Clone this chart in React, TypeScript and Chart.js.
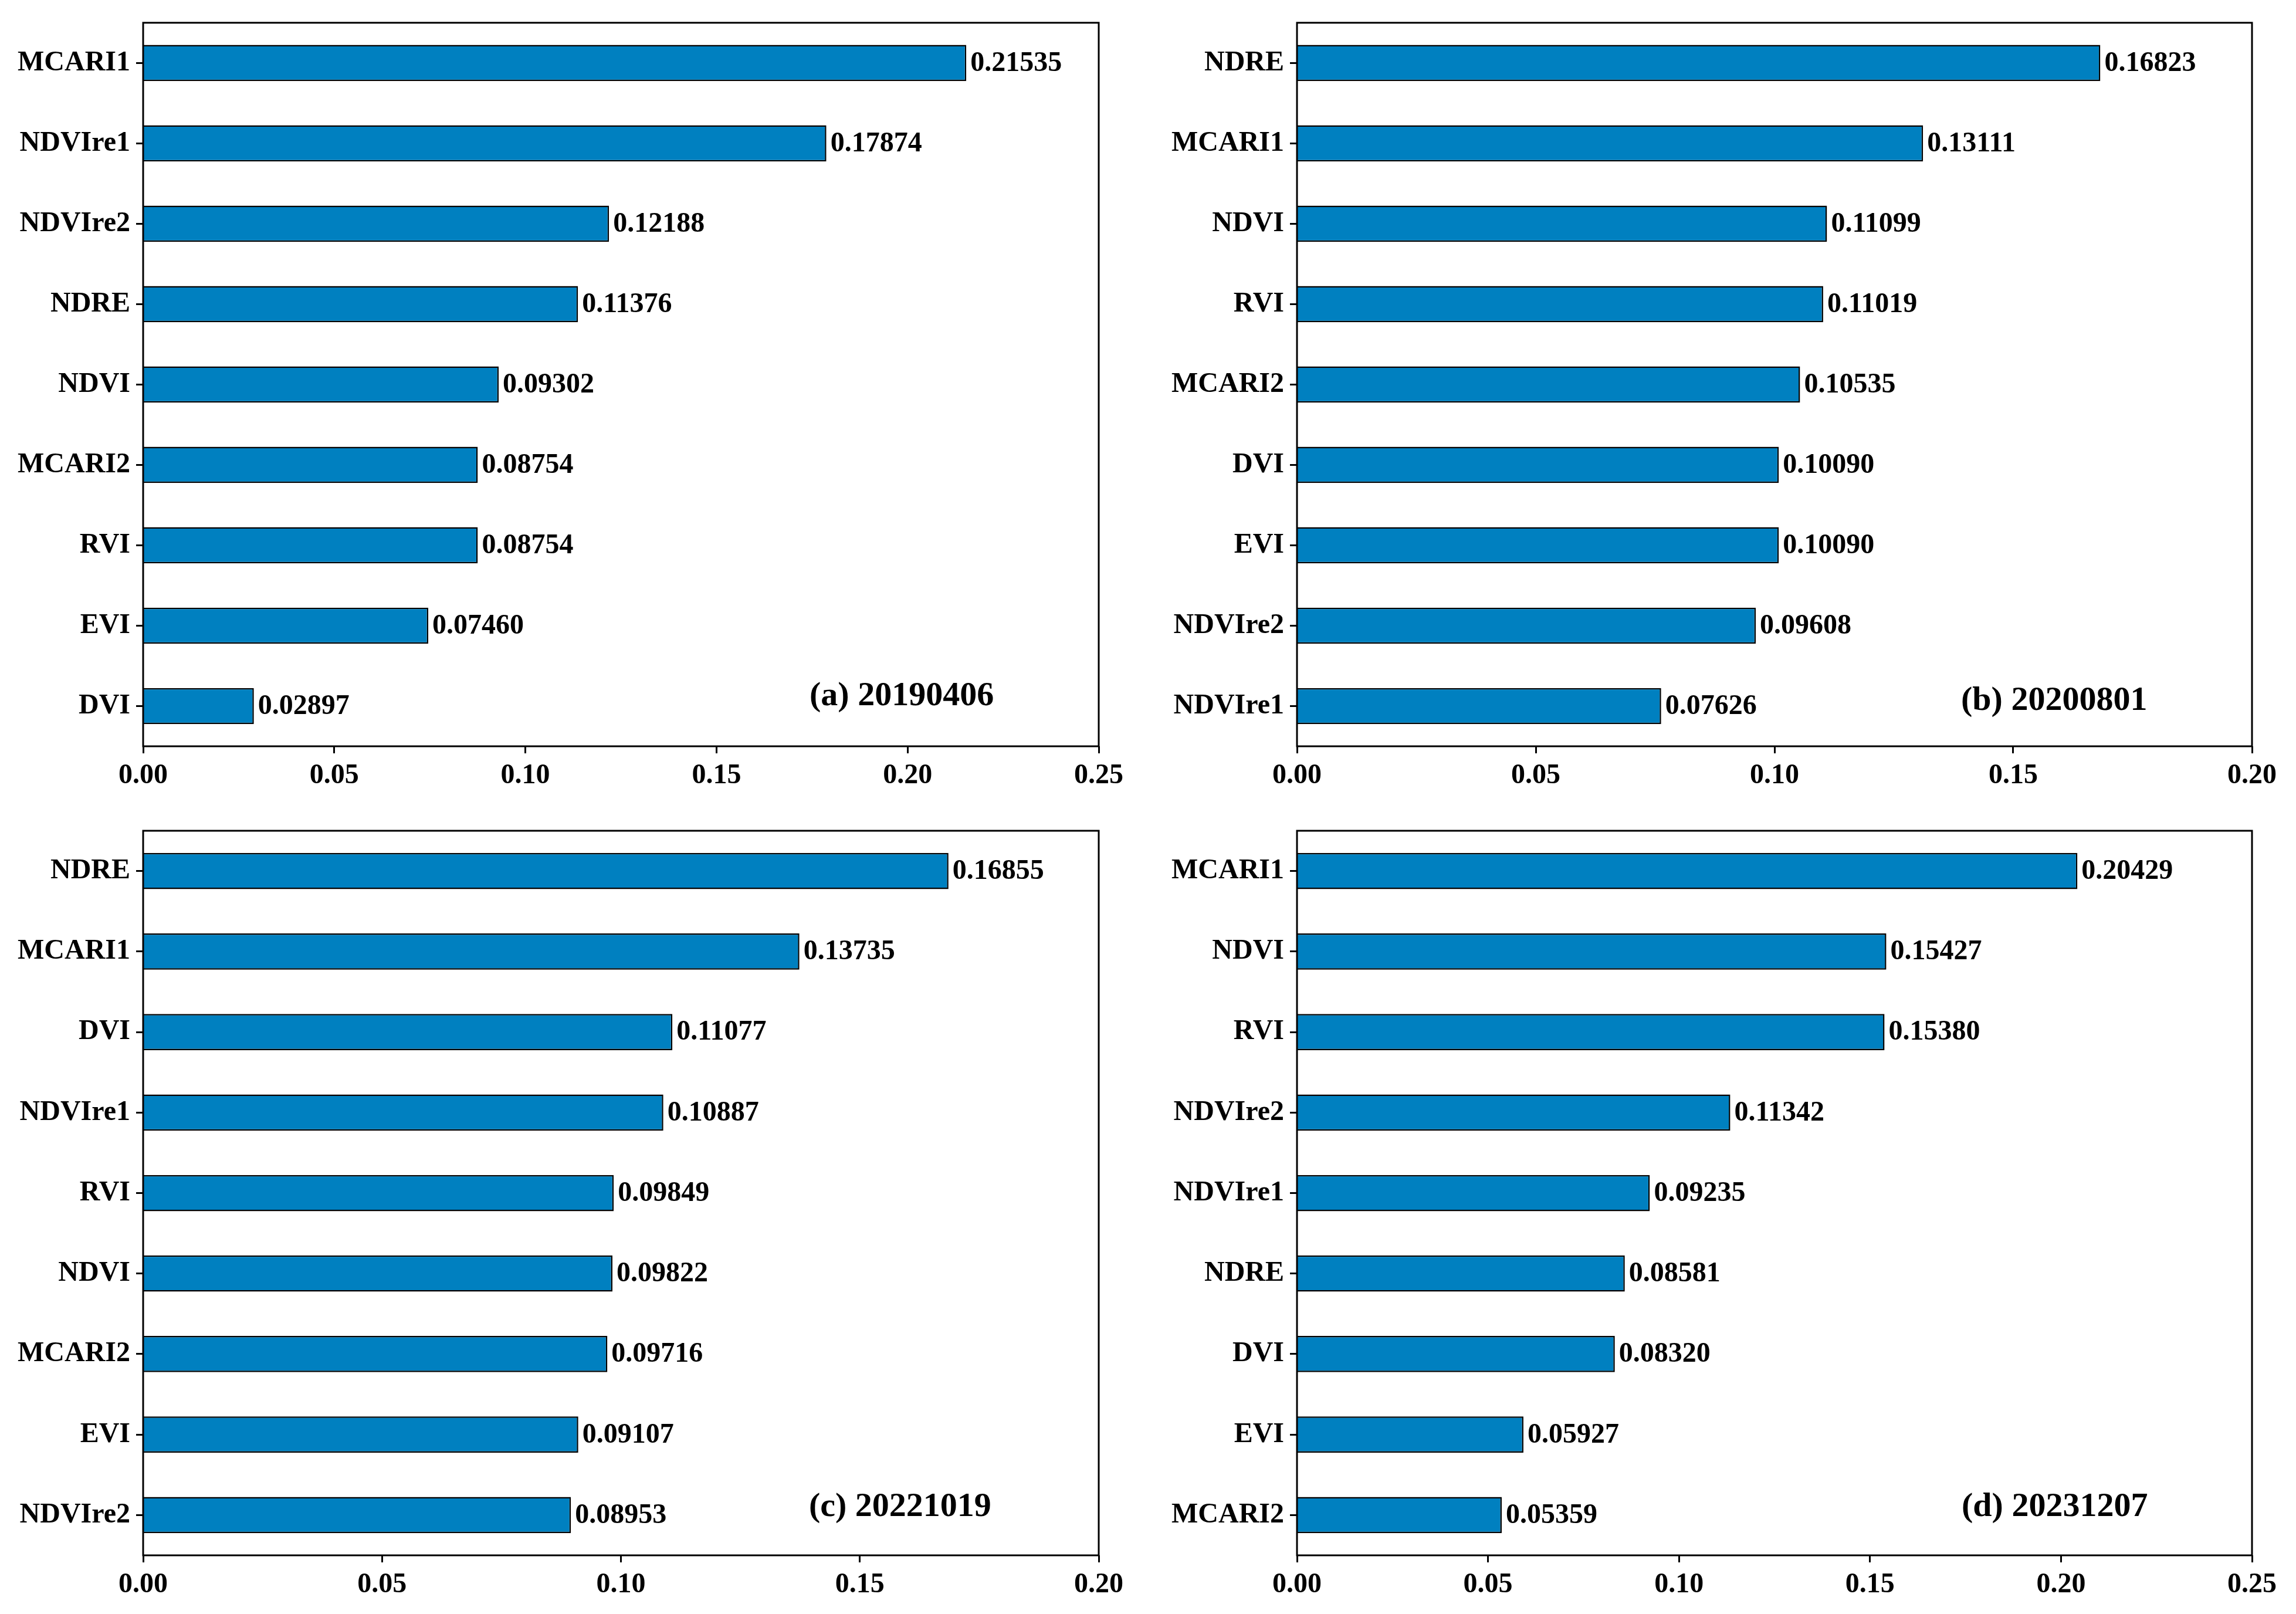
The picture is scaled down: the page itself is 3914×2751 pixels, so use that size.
import React, { useEffect, useRef } from "react";
import { Chart, registerables } from "chart.js";

Chart.register(...registerables);

// ---------- data ----------
const labelsA = ["MCARI1", "NDVIre1", "NDVIre2", "NDRE", "NDVI", "MCARI2", "RVI", "EVI", "DVI"];
const valuesA = [0.21535, 0.17874, 0.12188, 0.11376, 0.09302, 0.08754, 0.08754, 0.0746, 0.02897];

const labelsB = ["NDRE", "MCARI1", "NDVI", "RVI", "MCARI2", "DVI", "EVI", "NDVIre2", "NDVIre1"];
const valuesB = [0.16823, 0.13111, 0.11099, 0.11019, 0.10535, 0.1009, 0.1009, 0.09608, 0.07626];

const labelsC = ["NDRE", "MCARI1", "DVI", "NDVIre1", "RVI", "NDVI", "MCARI2", "EVI", "NDVIre2"];
const valuesC = [0.16855, 0.13735, 0.11077, 0.10887, 0.09849, 0.09822, 0.09716, 0.09107, 0.08953];

const labelsD = ["MCARI1", "NDVI", "RVI", "NDVIre2", "NDVIre1", "NDRE", "DVI", "EVI", "MCARI2"];
const valuesD = [0.20429, 0.15427, 0.1538, 0.11342, 0.09235, 0.08581, 0.0832, 0.05927, 0.05359];

const titles = ["(a) 20190406", "(b) 20200801", "(c) 20221019", "(d) 20231207"];
const xMaxes = [0.25, 0.2, 0.2, 0.25];

// ---------- styling ----------
const FONT = "'Liberation Serif', 'Times New Roman', serif";
const BAR_COLOR = "rgb(0,128,192)";

type PanelProps = {
  labels: string[];
  values: number[];
  title: string;
  xMax: number;
  left: number;
  top: number;
  width: number;
  height: number;
  padTop: number;
  padRight: number;
  yWidth: number;
  xHeight: number;
  titleDx: number;
  titleDy: number;
};

function Panel(p: PanelProps) {
  const ref = useRef<HTMLCanvasElement | null>(null);
  useEffect(() => {
    if (!ref.current) return;
    const framePlugin = {
      id: "frameAndLabels",
      afterDatasetsDraw(chart: any) {
        const ctx = chart.ctx;
        const meta = chart.getDatasetMeta(0);
        ctx.save();
        ctx.fillStyle = "#000";
        ctx.font = `bold 48px ${FONT}`;
        ctx.textAlign = "left";
        ctx.textBaseline = "middle";
        meta.data.forEach((el: any, i: number) => {
          ctx.fillText(p.values[i].toFixed(5), el.x + 7, el.y + 1);
        });
        ctx.restore();
      },
      afterDraw(chart: any) {
        const ctx = chart.ctx;
        const a = chart.chartArea;
        ctx.save();
        ctx.strokeStyle = "#000";
        ctx.lineWidth = 3;
        ctx.strokeRect(a.left, a.top, a.right - a.left, a.bottom - a.top);
        ctx.fillStyle = "#000";
        ctx.font = `bold 58px ${FONT}`;
        ctx.textAlign = "left";
        ctx.textBaseline = "alphabetic";
        ctx.fillText(p.title, a.left + p.titleDx, a.bottom - p.titleDy);
        ctx.restore();
      },
    };
    const chart = new Chart(ref.current, {
      type: "bar",
      data: {
        labels: p.labels,
        datasets: [
          {
            data: p.values,
            backgroundColor: BAR_COLOR,
            borderColor: "#000",
            borderWidth: 2.5,
            barPercentage: 0.45,
            categoryPercentage: 1,
          },
        ],
      },
      options: {
        indexAxis: "y",
        animation: false,
        responsive: false,
        maintainAspectRatio: false,
        devicePixelRatio: 1,
        layout: { padding: { top: p.padTop, right: p.padRight, left: 0, bottom: 0 } },
        plugins: { legend: { display: false }, tooltip: { enabled: false } },
        scales: {
          x: {
            type: "linear",
            min: 0,
            max: p.xMax,
            afterFit: (s: any) => {
              s.height = p.xHeight;
            },
            ticks: {
              stepSize: 0.05,
              color: "#000",
              font: { family: FONT, size: 48, weight: "bold" },
              padding: 10,
              maxRotation: 0,
              autoSkip: false,
              callback: (v: any) => Number(v).toFixed(2),
            },
            grid: {
              display: true,
              drawOnChartArea: false,
              drawTicks: true,
              tickLength: 12,
              tickWidth: 3,
              tickColor: "#000",
            },
            border: { display: false },
          },
          y: {
            type: "category",
            offset: true,
            afterFit: (s: any) => {
              s.width = p.yWidth;
            },
            ticks: {
              color: "#000",
              font: { family: FONT, size: 48, weight: "bold" },
              padding: 10,
              autoSkip: false,
            },
            grid: {
              display: true,
              offset: false,
              drawOnChartArea: false,
              drawTicks: true,
              tickLength: 12,
              tickWidth: 3,
              tickColor: "#000",
            },
            border: { display: false },
          },
        },
      },
      plugins: [framePlugin],
    } as any);
    return () => chart.destroy();
  }, []);
  return (
    <canvas
      ref={ref}
      width={p.width}
      height={p.height}
      style={{ position: "absolute", left: p.left, top: p.top, width: p.width, height: p.height, display: "block" }}
    />
  );
}

export default function App() {
  const W = 3914;
  const H = 2751;
  const cw1 = 1957;
  const cw2 = W - cw1;
  const ch1 = 1375;
  const ch2 = H - ch1;
  return (
    <div style={{ position: "absolute", left: 0, top: 0, width: W, height: H, background: "#fff", overflow: "hidden" }}>
      <Panel labels={labelsA} values={valuesA} title={titles[0]} xMax={xMaxes[0]}
        left={0} top={0} width={cw1} height={ch1}
        padTop={35} padRight={cw1 - 1873} yWidth={244} xHeight={ch1 - 1272} titleDx={1136} titleDy={70} />
      <Panel labels={labelsB} values={valuesB} title={titles[1]} xMax={xMaxes[1]}
        left={cw1} top={0} width={cw2} height={ch1}
        padTop={35} padRight={W - 3839} yWidth={2211 - cw1} xHeight={ch1 - 1272} titleDx={1132} titleDy={62} />
      <Panel labels={labelsC} values={valuesC} title={titles[2]} xMax={xMaxes[2]}
        left={0} top={ch1} width={cw1} height={ch2}
        padTop={1416 - ch1} padRight={cw1 - 1873} yWidth={244} xHeight={H - 2651} titleDx={1135} titleDy={67} />
      <Panel labels={labelsD} values={valuesD} title={titles[3]} xMax={xMaxes[3]}
        left={cw1} top={ch1} width={cw2} height={ch2}
        padTop={1416 - ch1} padRight={W - 3839} yWidth={2211 - cw1} xHeight={H - 2651} titleDx={1133} titleDy={67} />
    </div>
  );
}
